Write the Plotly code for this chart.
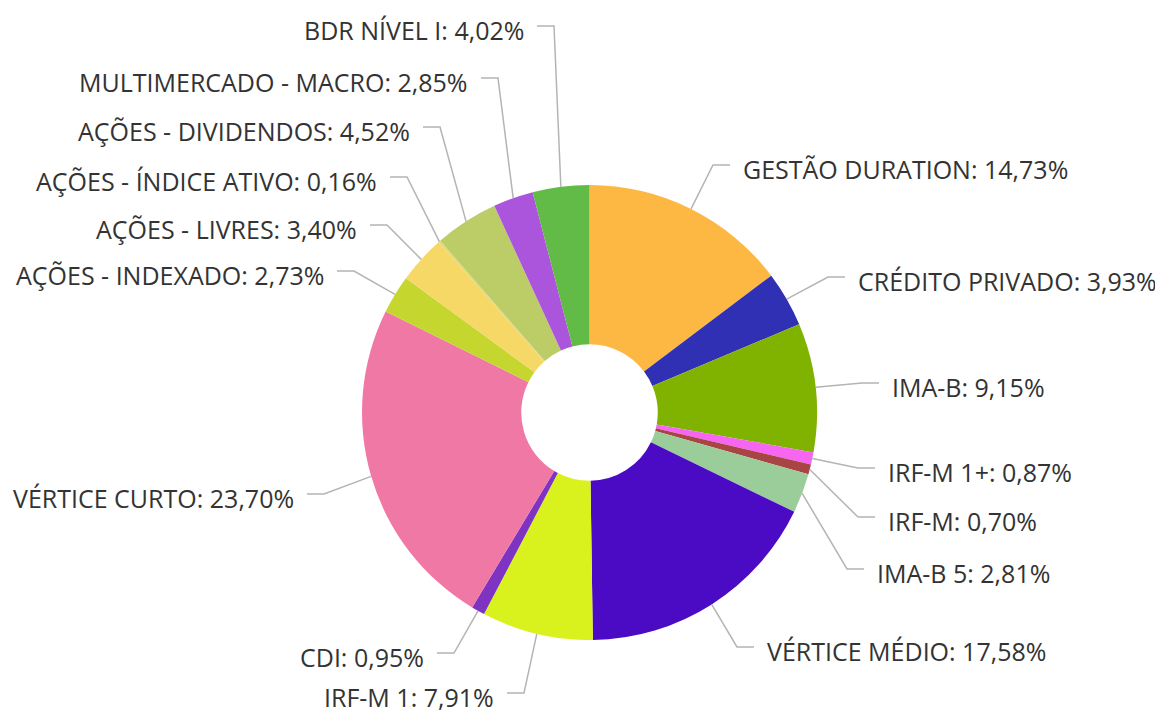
import math
import plotly.graph_objects as go

# ---- data ----
labels = [
    "GESTÃO DURATION", "CRÉDITO PRIVADO", "IMA-B", "IRF-M 1+", "IRF-M",
    "IMA-B 5", "VÉRTICE MÉDIO", "IRF-M 1", "CDI", "VÉRTICE CURTO",
    "AÇÕES - INDEXADO", "AÇÕES - LIVRES", "AÇÕES - ÍNDICE ATIVO",
    "AÇÕES - DIVIDENDOS", "MULTIMERCADO - MACRO", "BDR NÍVEL I",
]
values = [14.73, 3.93, 9.15, 0.87, 0.70, 2.81, 17.58, 7.91, 0.95, 23.70,
          2.73, 3.40, 0.16, 4.52, 2.85, 4.02]
colors = ["#FDB844", "#3030B4", "#80B300", "#F666F0", "#A84444",
          "#9ACD9A", "#4B0BC4", "#D9F21D", "#7E33C2", "#F078A5",
          "#C5D62E", "#F5D865", "#E6D878", "#BCCC66", "#AB55DC", "#63BB47"]

# ---- layout (label placement, window pixels) ----
OFF = 8                      # default page body margin
W, H = 1163 - OFF, 716 - OFF
CX, CY, R = 589.5, 412.5, 227.5
# (side, text edge x, text centre y)
label_pos = [
    ("r", 742, 169), ("r", 857, 281), ("r", 891, 387), ("r", 887, 472),
    ("r", 887, 521), ("r", 876, 573), ("r", 766, 651), ("l", 495, 697),
    ("l", 425, 657), ("l", 295, 498), ("l", 325, 275), ("l", 358, 229),
    ("l", 378, 181), ("l", 411, 131), ("l", 469, 82), ("l", 525, 30),
]

def px(x):
    return (x - OFF) / W

def py(y):
    return 1 - (y - OFF) / H

fig = go.Figure(go.Pie(
    labels=labels, values=values, sort=False, direction="clockwise",
    rotation=0, hole=0.3, textinfo="none", hoverinfo="label+percent",
    marker=dict(colors=colors, line=dict(width=0)),
    domain=dict(x=[px(CX - R), px(CX + R)], y=[py(CY + R), py(CY - R)]),
))

total = sum(values)
cum = 0.0
shapes, annotations = [], []
for lab, v, (side, tx, ty) in zip(labels, values, label_pos):
    theta = math.radians(360 * (cum + v / 2) / total)
    cum += v
    ex, ey = CX + R * math.sin(theta), CY - R * math.cos(theta)
    ly = ty - 4
    s = -1 if side == "r" else 1
    p0 = (tx + s * 12, ly)
    p1 = (tx + s * 29, ly)
    path = "M {} {} L {} {} L {} {}".format(
        px(p0[0]), py(p0[1]), px(p1[0]), py(p1[1]), px(ex), py(ey))
    shapes.append(dict(type="path", xref="paper", yref="paper", path=path,
                       line=dict(color="#B4B4B4", width=1.5)))
    txt = "{}: {}%".format(lab, ("%.2f" % v).replace(".", ","))
    annotations.append(dict(
        x=px(tx), y=py(ty), xref="paper", yref="paper", text=txt,
        showarrow=False, xanchor="left" if side == "r" else "right",
        yanchor="middle", borderpad=0,
        font=dict(family="Open Sans", size=25, color="#333333"),
    ))

fig.update_layout(
    width=W, height=H, margin=dict(l=0, r=0, t=0, b=0),
    paper_bgcolor="white", plot_bgcolor="white", showlegend=False,
    shapes=shapes, annotations=annotations,
)
fig.write_html("out.html")
